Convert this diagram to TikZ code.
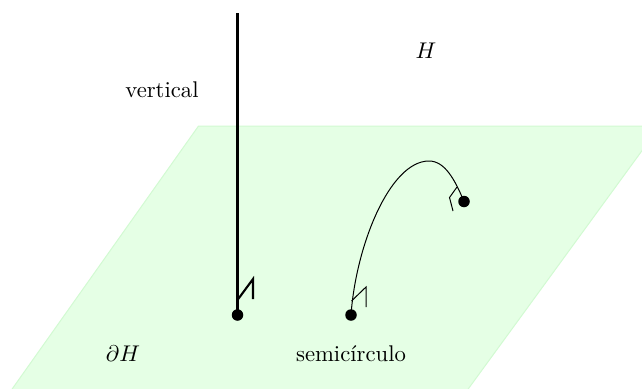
\documentclass[tikz,border=0pt]{standalone}
\usetikzlibrary{calc}
\definecolor{planefill}{RGB}{229,255,229}
\definecolor{planeedge}{RGB}{210,250,210}
\begin{document}
\begin{tikzpicture}[x=1pt,y=-1pt,
  lbl/.style={font=\fontsize{10}{12}\selectfont,inner sep=0pt,anchor=center,scale=2.27},
  dot/.style={circle,fill=black,inner sep=0pt,minimum size=11.5pt},
  geo/.style={line width=1pt,black},
  geothick/.style={line width=2.1pt,black,line join=miter}]
\useasboundingbox (0,0) rectangle (642,388);
\clip (0,0) rectangle (642,388);
\draw[planeedge,fill=planefill,line width=1pt] (198.5,126) -- (660,126) -- (466,392) -- (10,392) -- cycle;
\coordinate (top) at (237.5,13);
\node[dot] (p1) at (237.5,315) {};
\node[dot] (p2) at (351,315) {};
\node[dot] (p3) at (464,201.5) {};
\coordinate (peak) at (429,161);
\draw[geothick] (top) -- (p1.center);
\draw[geothick] (237.5,300) -- (253,279) -- (253,299);
\draw[geo] (p2.center) .. controls (356,245) and (390,161) .. (peak) .. controls (445,161) and (455,180) .. (p3.center);
\draw[geo] (351.5,301) -- (366,287) -- (366,307);
\draw[geo] (457,187) -- (449.5,197.5) -- (453,211);
\node[lbl] (v) at (162,89.5) {vertical};
\node[lbl] (h) at (426,51) {$H$};
\node[lbl] (dh) at (123,354) {$\partial H$};
\node[lbl] (s) at (351,354) {semic\'{\i}rculo};
\end{tikzpicture}
\end{document}
